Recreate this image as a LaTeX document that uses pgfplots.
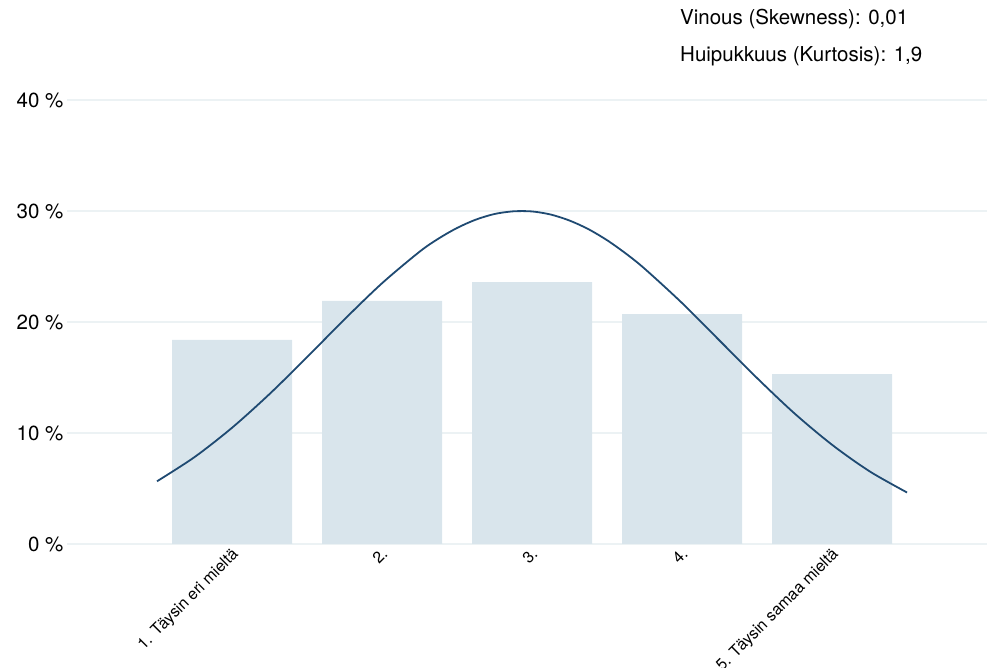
\documentclass[border=0pt]{standalone}
\usepackage{fontspec}
\setmainfont{TeX Gyre Heros}
\usepackage{pgfplots}
\pgfplotsset{compat=1.18}
\definecolor{barc}{HTML}{D9E5EC}
\definecolor{linec}{HTML}{1F4A72}
\definecolor{gridc}{HTML}{ECF2F4}
\begin{document}
\begin{tikzpicture}
\useasboundingbox (0,0) rectangle (987pt,668pt);
\begin{axis}[
  at={(67pt,124pt)}, anchor=south west,
  scale only axis, width=920pt, height=444pt,
  xmin=-0.1, xmax=6.033, ymin=0, ymax=40,
  axis line style={draw=none},
  major tick length=0pt,
  ymajorgrids, grid style={gridc, line width=1.5pt},
  ytick={0,10,20,30,40},
  yticklabels={0 \%,10 \%,20 \%,30 \%,40 \%},
  yticklabel style={font=\fontsize{20.5}{24}\selectfont},
  xtick={1,2,3,4,5},
  xticklabels={1. Täysin eri mieltä, 2., 3., 4., 5. Täysin samaa mieltä},
  xticklabel style={font=\fontsize{16}{19}\selectfont, rotate=45, anchor=north east, inner sep=1pt, xshift=-2pt},
  clip=false,
]
\addplot[ybar, bar width=120pt, fill=barc, draw=none] coordinates {(1,18.4) (2,21.9) (3,23.6) (4,20.7) (5,15.3)};
\addplot[linec, line width=1.8pt, smooth, no markers] coordinates {
(0.5,5.65) (0.75,7.83) (1.0,10.47) (1.25,13.51) (1.5,16.83) (1.75,20.24)
(2.0,23.49) (2.25,26.33) (2.375,27.50) (2.5,28.47) (2.625,29.22) (2.75,29.73) (2.875,29.97)
(3.0,29.96) (3.125,29.68) (3.25,29.14) (3.375,28.37) (3.5,27.37) (3.625,26.17) (3.75,24.81)
(4.0,21.71) (4.25,18.33) (4.5,14.95)
(4.75,11.76) (5.0,8.94) (5.25,6.55) (5.5,4.64)};
\end{axis}
\node[anchor=base west, font=\fontsize{20.5}{24}\selectfont, inner sep=0pt] at (680pt,643pt) {Vinous (Skewness): 0,01};
\node[anchor=base west, font=\fontsize{20.5}{24}\selectfont, inner sep=0pt] at (680pt,606pt) {Huipukkuus (Kurtosis): 1,9};
\end{tikzpicture}
\end{document}
